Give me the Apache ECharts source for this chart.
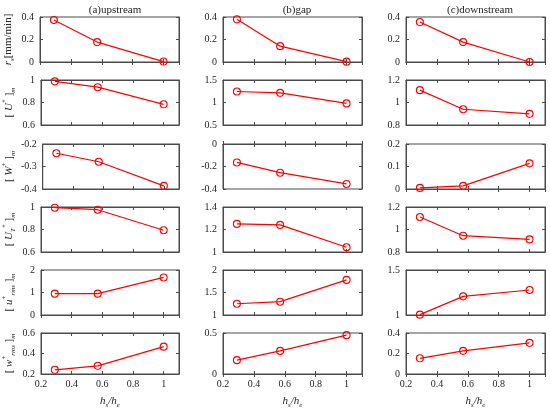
<!DOCTYPE html>
<html><head><meta charset="utf-8">
<script src="https://cdn.jsdelivr.net/npm/echarts@6/dist/echarts.min.js"></script>
<style>html,body{margin:0;padding:0;background:#fff}#c{width:550px;height:410px}</style>
</head><body><div id="c"></div>
<script>
// x positions (h_s/h_e)
const hRatio = [0.29, 0.57, 1.0];
const colTitles = ['(a)upstream', '(b)gap', '(c)downstream'];
const xTicks = [0.2, 0.4, 0.6, 0.8, 1];

// (a) upstream
const up_rs   = [0.373, 0.177, 0.004];
const up_U    = [0.988, 0.936, 0.784];
const up_W    = [-0.241, -0.279, -0.386];
const up_UT   = [0.994, 0.976, 0.793];
const up_urms = [0.948, 0.948, 1.67];
const up_wrms = [0.241, 0.28, 0.467];

// (b) gap
const gap_rs   = [0.379, 0.141, 0.003];
const gap_U    = [1.245, 1.215, 0.98];
const gap_W    = [-0.164, -0.255, -0.355];
const gap_UT   = [1.25, 1.241, 1.042];
const gap_urms = [1.25, 1.296, 1.78];
const gap_wrms = [0.169, 0.282, 0.474];

// (c) downstream
const dn_rs   = [0.355, 0.177, 0.0];
const dn_U    = [1.11, 0.94, 0.899];
const dn_W    = [0.005, 0.014, 0.114];
const dn_UT   = [1.111, 0.945, 0.912];
const dn_urms = [1.004, 1.207, 1.278];
const dn_wrms = [0.153, 0.226, 0.304];

// y-axis ranges [min, max, interval] per column, per row
const yRanges = [
  [[0,0.4,0.2],[0.6,1,0.2],[-0.4,-0.2,0.1],[0.6,1,0.2],[0,2,1],[0.2,0.6,0.2]],
  [[0,0.4,0.2],[0.5,1.5,0.5],[-0.4,0,0.2],[1,1.4,0.2],[1,2,0.5],[0,0.5,0.5]],
  [[0,0.4,0.2],[0.8,1.2,0.2],[0,0.2,0.1],[0.8,1.2,0.2],[1,1.5,0.5],[0,0.4,0.2]]
];
const yNames = [
  '{i|r}{sub|s}{n|[mm/min]}',
  '{n|[ }{i|U}{sup|+}{n| ]}{sub|m}',
  '{n|[ }{i|W}{sup|+}{n| ]}{sub|m}',
  '{n|[ }{i|U}{sub|T}{sup|+}{n| ]}{sub|m}',
  '{n|[ }{i|u}{sup|+}{sub|rms}{n| ]}{sub|m}',
  '{n|[ }{i|w}{sup|+}{sub|rms}{n| ]}{sub|m}'
];
const data = [
  [up_rs, up_U, up_W, up_UT, up_urms, up_wrms],
  [gap_rs, gap_U, gap_W, gap_UT, gap_urms, gap_wrms],
  [dn_rs, dn_U, dn_W, dn_UT, dn_urms, dn_wrms]
];

const FONT = 'Liberation Serif';
const AX = '#4a4a4a';
const colLeft = [40, 223, 406];
const colCenter = [110, 292, 475];
const rowTop = [17, 80, 144, 207, 270, 333];
const W = 139, H = 45;

const rich = {
  n: {fontFamily: FONT, fontSize: 11, color: '#262626', lineHeight: 16, verticalAlign: 'middle'},
  i: {fontFamily: FONT, fontSize: 11, fontStyle: 'italic', color: '#262626', lineHeight: 16, verticalAlign: 'middle'},
  sub: {fontFamily: FONT, fontSize: 7, fontStyle: 'italic', color: '#262626', lineHeight: 16, verticalAlign: 'bottom'},
  sup: {fontFamily: FONT, fontSize: 7, color: '#262626', lineHeight: 16, verticalAlign: 'top'}
};

const grids = [], xAxes = [], yAxes = [], series = [], titles = [];
let gi = 0;
for (let c = 0; c < 3; c++) {
  titles.push({text: colTitles[c], left: colCenter[c], top: 0, textAlign: 'center',
    textStyle: {fontFamily: FONT, fontSize: 11, fontWeight: 'normal', color: '#262626'}});
  for (let r = 0; r < 6; r++) {
    grids.push({left: colLeft[c], top: rowTop[r], width: W, height: H, show: true,
      borderColor: AX, borderWidth: 1, backgroundColor: '#fff'});
    const last = r === 5;
    const [ymin, ymax, yint] = yRanges[c][r];
    const xBase = {gridIndex: gi, type: 'value', min: 0.2, max: 1.1, interval: 0.2,
      axisLine: {show: true, lineStyle: {color: AX, width: 1}},
      axisTick: {show: true, inside: true, length: 3, lineStyle: {color: AX}},
      splitLine: {show: false}};
    xAxes.push(Object.assign({}, xBase, {position: 'bottom',
      axisLabel: {show: last, showMaxLabel: false, fontFamily: FONT, fontSize: 10, color: '#262626', margin: 5},
      name: last ? '{i|h}{sub|s}{i|/h}{sub|e}' : '', nameLocation: 'middle', nameGap: 19,
      nameTextStyle: {rich: rich}}));
    xAxes.push(Object.assign({}, xBase, {position: 'top', axisLabel: {show: false}}));
    const yBase = {gridIndex: gi, type: 'value', min: ymin, max: ymax, interval: yint,
      axisLine: {show: true, lineStyle: {color: AX, width: 1}},
      axisTick: {show: true, inside: true, length: 3, lineStyle: {color: AX}},
      splitLine: {show: false}};
    yAxes.push(Object.assign({}, yBase, {position: 'left',
      axisLabel: {show: true, showMinLabel: true, showMaxLabel: true, fontFamily: FONT, fontSize: 10, color: '#262626', margin: 6},
      name: c === 0 ? yNames[r] : '', nameLocation: 'middle', nameRotate: 90, nameGap: 24,
      nameTextStyle: {rich: rich}}));
    yAxes.push(Object.assign({}, yBase, {position: 'right', axisLabel: {show: false}}));
    series.push({type: 'line', xAxisIndex: 2 * gi, yAxisIndex: 2 * gi,
      data: hRatio.map((x, k) => [x, data[c][r][k]]),
      symbol: 'circle', symbolSize: 7, showSymbol: true,
      lineStyle: {color: '#ff0000', width: 1.2},
      itemStyle: {color: 'rgba(0,0,0,0)', borderColor: '#ff0000', borderWidth: 1.1},
      animation: false, silent: true});
    gi++;
  }
}

const chart = echarts.init(document.getElementById('c'), null, {renderer: 'canvas'});
chart.setOption({animation: false, backgroundColor: '#fff', title: titles,
  grid: grids, xAxis: xAxes, yAxis: yAxes, series: series});
</script></body></html>
